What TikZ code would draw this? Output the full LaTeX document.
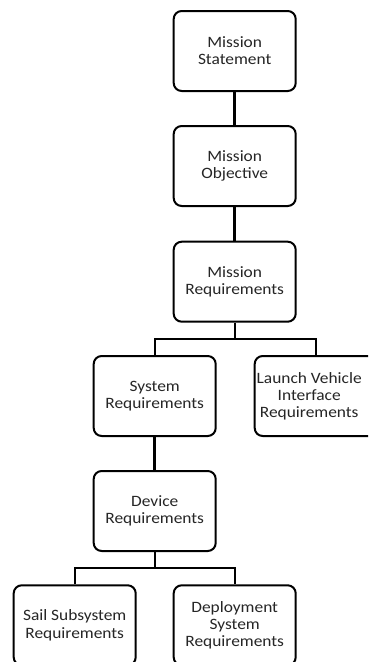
\documentclass[tikz,border=0pt]{standalone}
\usepackage{fontspec}
\setmainfont{Carlito}[FakeStretch=1.1]
\begin{document}
\begin{tikzpicture}[x=1pt,y=-1pt,
  reqbox/.style={draw=black, line width=2pt, rounded corners=8pt, fill=white,
    minimum width=122pt, minimum height=80pt, inner sep=0pt,
    align=center, text=black!85,
    font=\fontsize{15.8}{17.2}\selectfont},
  stem/.style={line width=3pt},
  bus/.style={line width=2pt, line join=miter}]
\useasboundingbox (0,0) rectangle (368,662);
\clip (0,0) rectangle (368,662);
\fill[white] (0,0) rectangle (368,662);

% main chain
\node[reqbox] (ms) at (234.7,51)    {Mission\\Statement};
\node[reqbox] (mo) at (234.7,166)   {Mission\\Objective};
\node[reqbox] (mr) at (234.7,281.7) {Mission\\Requirements};

% second level
\node[reqbox] (sr) at (154.7,396)   {System\\Requirements};
\node[reqbox] (lv) at (315.7,396)   {};
\node[align=center, text=black!85, font=\fontsize{15.8}{17.2}\selectfont, inner sep=0pt]
  (lvtext) at ([xshift=-6.5pt]lv.center) {Launch Vehicle\\Interface\\Requirements};

% device level
\node[reqbox] (dr) at (154.7,511)   {Device\\Requirements};

% bottom level
\node[reqbox] (ss) at (74.7,625.3)  {Sail Subsystem\\Requirements};
\node[reqbox] (ds) at (234.7,625.3) {Deployment\\System\\Requirements};

% bus levels
\coordinate (b1) at (0,339);
\coordinate (b2) at (0,567.7);

% connectors
\draw[stem] (ms) -- (mo);
\draw[stem] (mo) -- (mr);
\draw[bus] (mr.south) -- (mr.south |- b1);
\draw[bus] (sr.north) -- (sr.north |- b1) -- (lv.north |- b1) -- (lv.north);
\draw[stem] (sr) -- (dr);
\draw[bus] (dr.south) -- (dr.south |- b2);
\draw[bus] (ss.north) -- (ss.north |- b2) -- (ds.north |- b2) -- (ds.north);
\end{tikzpicture}
\end{document}
